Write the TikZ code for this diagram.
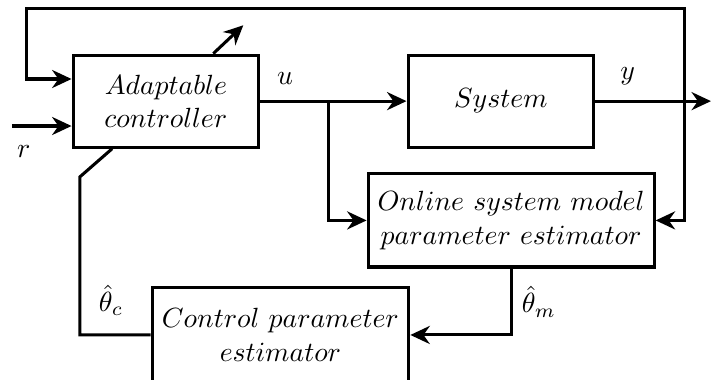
\documentclass[tikz,border=0pt]{standalone}
\usepackage{amsmath,amssymb}
\usetikzlibrary{arrows.meta,positioning}

\begin{document}
\begin{tikzpicture}[>={Stealth[length=7pt,width=6.5pt]},line width=1.1pt,
    blk/.style={draw,line width=1.1pt,align=center,minimum width=2.35cm,minimum height=1.165cm}]
  \useasboundingbox (0,0) rectangle (9.0,4.81);
  % blocks
  \node[blk] (ctrl) at (2.10,3.53) {$Adaptable$\\$controller$};
  \node[blk] (sys) at (6.34,3.53) {$System$};
  \node[blk,minimum width=3.62cm,minimum height=1.18cm] (est) at (6.47,2.02) {$Online\ system\ model$\\$parameter\ estimator$};
  \node[blk,minimum width=3.25cm,minimum height=1.19cm] (cpe) at (3.55,0.57) {$Control\ parameter$\\$estimator$};
  % branch points and free ends
  \coordinate (rin) at (0.15,3.215);
  \coordinate (out) at (9.0,3.53);
  \coordinate (ybr) at (8.67,3.53);
  \coordinate (ubr) at (4.16,3.53);
  \coordinate (topl) at (0.34,4.70);
  \coordinate (kink) at (1.01,2.57);
  \coordinate (tune) at (3.08,4.49);
  % signals
  \draw[->] (rin) -- node[pos=0.2,below=3pt]{$r$} ([yshift=-0.315cm]ctrl.west);
  \draw[->] (ctrl) -- node[pos=0.17,above=2pt]{$u$} (sys);
  \draw[->] (sys) -- node[pos=0.28,above=2pt]{$y$} (out);
  \draw[->] (ubr) |- (est);
  \draw[->] (ybr) |- (est);
  \draw[->] (ybr) |- (topl) |- ([yshift=0.28cm]ctrl.west);
  \draw[->] (est.south) |- node[pos=0.25,right]{$\hat{\theta}_m$} (cpe.east);
  \draw (cpe.west) -| node[pos=0.61,right=3pt]{$\hat{\theta}_c$} (kink) -- ([xshift=-0.68cm]ctrl.south);
  \draw[->] ([xshift=0.6cm]ctrl.north) -- (tune);
\end{tikzpicture}
\end{document}
